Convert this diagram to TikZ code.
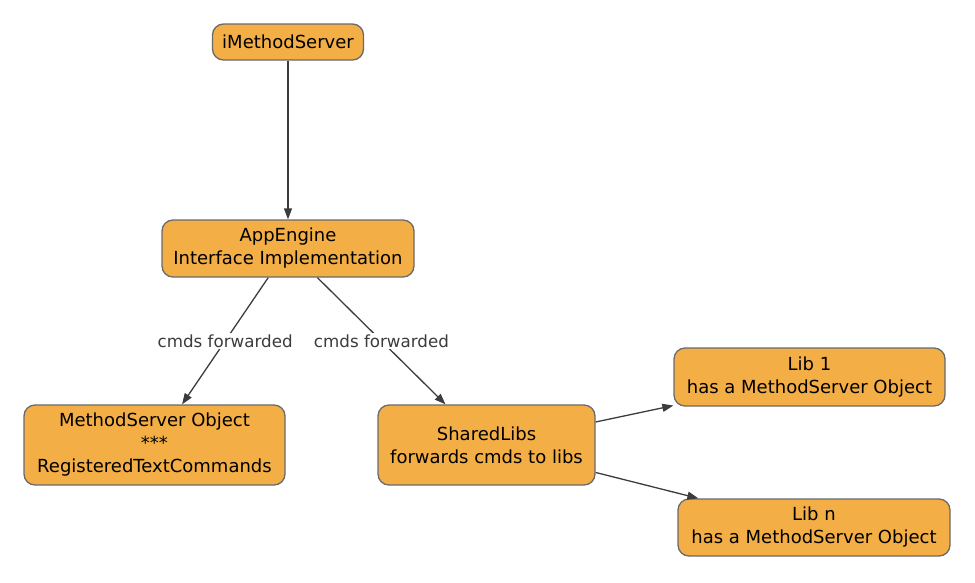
\documentclass[tikz,border=0pt]{standalone}
\usepackage{fontspec}
\setmainfont{DejaVu Sans}
\usetikzlibrary{arrows.meta}
\definecolor{boxfill}{HTML}{F3AE45}
\definecolor{boxline}{HTML}{6A6A6A}
\definecolor{edgecol}{HTML}{3C3C3C}
\begin{document}
\begin{tikzpicture}[x=1pt,y=-1pt,
  box/.style={draw=boxline,fill=boxfill,line width=1.3pt,rounded corners=11pt,
    align=center,inner sep=0pt,font=\fontsize{18}{23}\selectfont},
  edge/.style={draw=edgecol,line width=1.3pt,-{Triangle[length=11pt,width=8pt]}},
  elabel/.style={fill=white,inner sep=1.5pt,text=edgecol,font=\fontsize{16.7}{20}\selectfont}
]
\useasboundingbox (0,0) rectangle (975,582);
\node[box,minimum width=151pt,minimum height=36pt] (ims) at (288,42) {iMethodServer};
\node[box,minimum width=252pt,minimum height=57pt] (app) at (288,248.5) {AppEngine\\Interface Implementation};
\node[box,minimum width=261pt,minimum height=80pt] (mso) at (154.5,445) {MethodServer Object\\***\\RegisteredTextCommands};
\node[box,minimum width=217pt,minimum height=80pt] (sl) at (486.5,445) {SharedLibs\\forwards cmds to libs};
\node[box,minimum width=271pt,minimum height=58pt] (l1) at (809.5,377) {Lib 1\\has a MethodServer Object};
\node[box,minimum width=272pt,minimum height=57pt] (ln) at (814,527.5) {Lib n\\has a MethodServer Object};
\draw[edge] (ims) -- (app);
\draw[edge] (app) -- node[elabel] {cmds forwarded} (mso);
\draw[edge] (app) -- node[elabel] {cmds forwarded} (sl);
\draw[edge] (sl) -- (l1);
\draw[edge] (sl) -- (ln);
\end{tikzpicture}
\end{document}
